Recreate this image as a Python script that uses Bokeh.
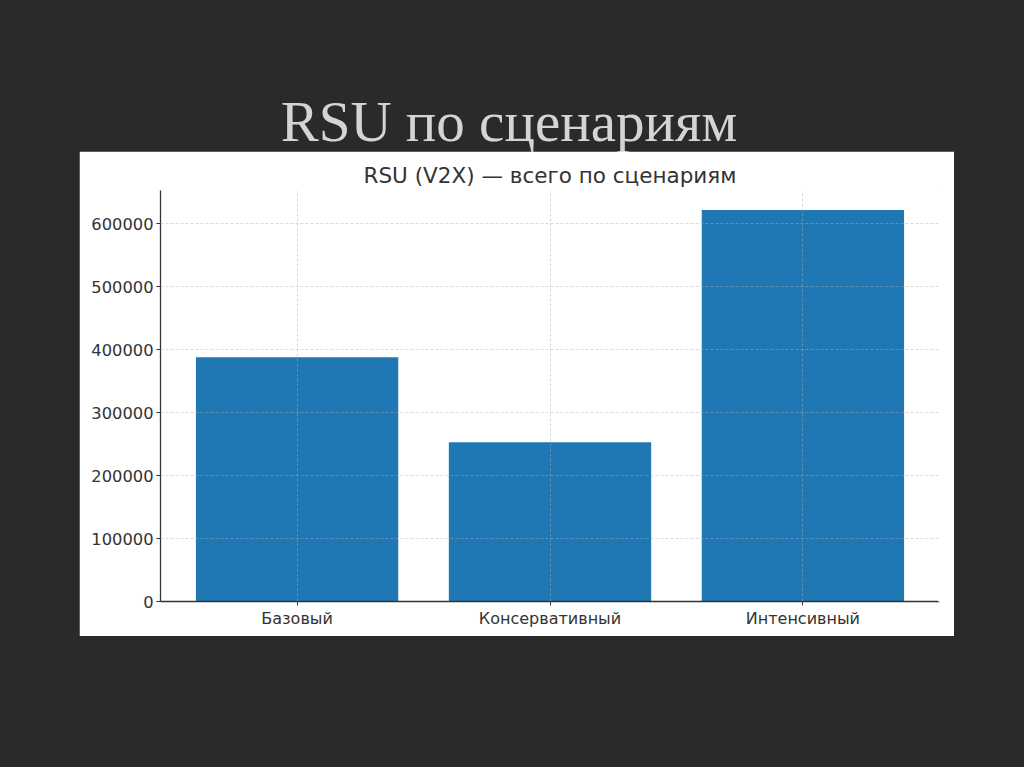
from bokeh.plotting import figure
from bokeh.models import (FactorRange, Range1d, FixedTicker, BasicTickFormatter, Div, Spacer,
                          LinearAxis)
from bokeh.layouts import column, row
from bokeh.embed import file_html
from bokeh.resources import INLINE

# data
slide_title = "RSU по сценариям"
chart_title = "RSU (V2X) — всего по сценариям"
scenarios = ["Базовый", "Консервативный", "Интенсивный"]
rsu_total = [388000, 253000, 622000]
y_ticks = [0, 100000, 200000, 300000, 400000, 500000, 600000]

BG = "#2a2a2a"
TXT = "#333333"

title_div = Div(
    text=f'<div style="width:1008px;text-align:center;font-family:\'Liberation Serif\',serif;'
         f'font-size:57px;line-height:60px;color:#d4d4d4;padding-top:87px;">{slide_title}</div>',
    width=1008, height=141,
)

p = figure(
    x_range=FactorRange(factors=scenarios, range_padding=0.0267, range_padding_units="percent"),
    y_range=Range1d(0, max(rsu_total) * 1.05),
    width=875, height=485,
    output_backend="svg", toolbar_location=None,
    title=chart_title,
    min_border_left=81, min_border_right=15, min_border_top=39, min_border_bottom=35,
    outline_line_color=None,
)
p.vbar(x=scenarios, top=rsu_total, width=0.8, color="#1f77b4", line_color=None)

p.background_fill_color = "white"
p.border_fill_color = "white"

p.title.align = "center"
p.title.text_font = "DejaVu Sans"
p.title.text_font_size = "21.5px"
p.title.text_font_style = "normal"
p.title.text_color = TXT
p.title.standoff = 6

for ax in (p.xaxis[0], p.yaxis[0]):
    ax.axis_line_color = "#333333"
    ax.axis_line_width = 1.3
    ax.major_tick_line_color = "#333333"
    ax.minor_tick_line_color = None
    ax.major_tick_in = 0
    ax.major_tick_out = 4
    ax.major_label_text_font = "DejaVu Sans"
    ax.major_label_text_color = TXT
    ax.major_label_standoff = 3

p.yaxis.major_label_text_font_size = "16.3px"
p.xaxis.major_label_text_font_size = "16px"
p.yaxis.ticker = FixedTicker(ticks=y_ticks)
p.yaxis.formatter = BasicTickFormatter(use_scientific=False)

# blank white top/right spines (no ticks, no labels) to hide the frame border
for side in ("above", "right"):
    ax = LinearAxis(ticker=FixedTicker(ticks=[]))
    ax.axis_line_color = "white"
    ax.axis_line_width = 3
    ax.major_tick_line_color = None
    ax.minor_tick_line_color = None
    ax.major_tick_in = 0
    ax.major_tick_out = 0
    ax.major_label_standoff = 0
    p.add_layout(ax, side)

for g in (p.xgrid[0], p.ygrid[0]):
    g.grid_line_color = "#b0b0b0"
    g.grid_line_alpha = 0.45
    g.grid_line_dash = "3 2"
    g.grid_line_width = 1
    g.level = "annotation"

layout = column(title_div, row(Spacer(width=79, height=485), p), spacing=0)

html = file_html(layout, INLINE)
html = html.replace("</head>", f"<style>html,body{{background:{BG};}}</style></head>", 1)
open("out.html", "w").write(html)
